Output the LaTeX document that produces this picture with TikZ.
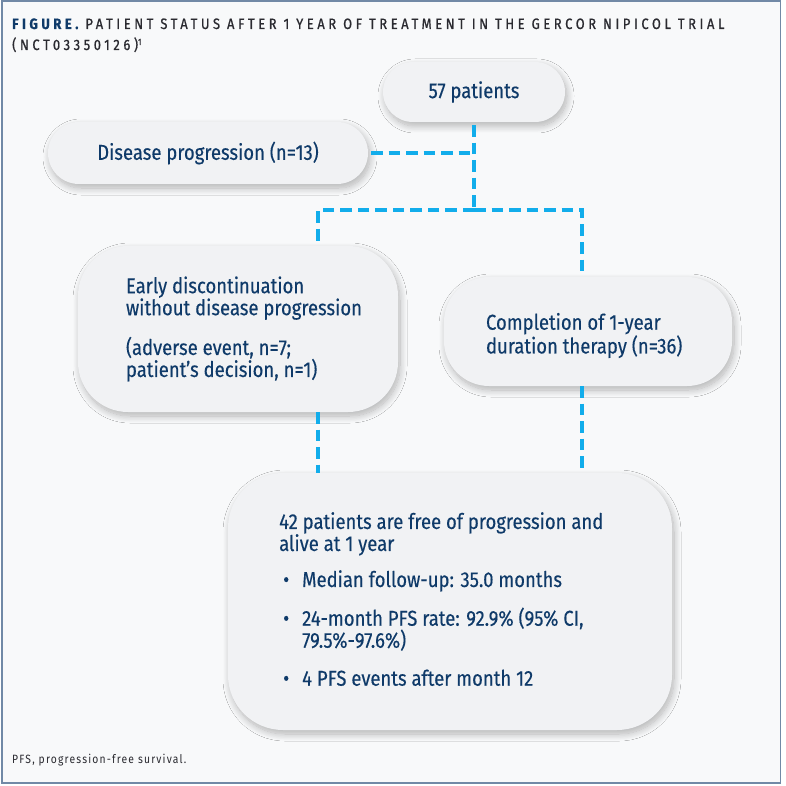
\documentclass[tikz,border=0pt]{standalone}
\usepackage{fontspec}
\setmainfont{Fira Sans}[FakeStretch=0.86,FakeBold=0.3]
\newfontfamily\titlefont{Fira Sans}[FakeStretch=0.86,LetterSpace=24,FakeBold=0.9]
\newfontfamily\notefont{Fira Sans}[FakeStretch=0.86,LetterSpace=10]
\usetikzlibrary{shadows.blur}
\definecolor{navy}{HTML}{0F3A69}
\definecolor{dashblue}{HTML}{12ADEB}
\definecolor{bgc}{HTML}{F8F9FA}
\definecolor{boxc}{HTML}{F1F2F4}
\definecolor{framec}{HTML}{7189A6}
\definecolor{titlec}{HTML}{2A2A30}
\tikzset{
  box/.style={fill=boxc, draw=none, inner sep=0pt,
    blur shadow={shadow xshift=2pt, shadow yshift=-4pt, shadow blur radius=7pt, shadow blur steps=12, shadow opacity=28}},
  txt/.style={text=navy, font=\fontsize{21.5}{22}\selectfont, align=left, inner sep=0pt},
  conn/.style={draw=dashblue, line width=4pt, dash pattern=on 11.5pt off 6pt}
}
\begin{document}
\begin{tikzpicture}[x=1pt,y=-1pt]
\useasboundingbox (0,0) rectangle (786,786);
\fill[white] (0,0) rectangle (786,786);
\fill[bgc] (2,1) rectangle (780.5,783);
\draw[framec, line width=1.4pt] (2,1) rectangle (780.5,783);

% title
\node[anchor=base west, inner sep=0pt, text=titlec, font=\titlefont\fontsize{15}{16}\selectfont] (title1) at (12,29)
  {\textcolor{navy}{\bfseries FIGURE.} PATIENT STATUS AFTER 1 YEAR OF TREATMENT IN THE GERCOR NIPICOL TRIAL};
\node[anchor=base west, inner sep=0pt, text=titlec, font=\titlefont\fontsize{15}{16}\selectfont] (title2) at (12,50)
  {(NCT03350126)\raisebox{5pt}{\fontsize{9}{9}\selectfont 1}};

% boxes
\node[box, minimum width=182pt, minimum height=60pt, rounded corners=30pt] (p57) at (474,92) {};
\node[txt] at (p57) {57 patients};

\node[box, minimum width=320pt, minimum height=62pt, rounded corners=31pt] (dp) at (208,153) {};
\node[txt] at (dp) {Disease progression (n=13)};

\node[box, minimum width=320pt, minimum height=166pt, rounded corners=50pt] (early) at (238,329) {};
\node[txt, anchor=west] at ([xshift=48pt]early.west) {Early discontinuation\\without disease progression\\[16pt](adverse event, n=7;\\patient’s decision, n=1)};

\node[box, minimum width=288pt, minimum height=109pt, rounded corners=45pt] (comp) at (588,331.5) {};
\node[txt, anchor=west] at ([xshift=42pt,yshift=-4pt]comp.west) {Completion of 1-year\\duration therapy (n=36)};

\node[box, minimum width=444pt, minimum height=257pt, rounded corners=55pt] (res) at (450,601.5) {};
\node[txt, anchor=north west] at (279,512) {42 patients are free of progression and\\alive at 1 year\\[14pt]%
\makebox[23pt][l]{\hspace{4pt}\textbullet}Median follow-up: 35.0 months\\[15pt]%
\makebox[23pt][l]{\hspace{4pt}\textbullet}24-month PFS rate: 92.9\% (95\% CI,\\
\hspace*{23pt}79.5\%-97.6\%)\\[16pt]%
\makebox[23pt][l]{\hspace{4pt}\textbullet}4 PFS events after month 12};

% footnote
\node[anchor=base west, inner sep=0pt, text=titlec, font=\notefont\fontsize{12}{13}\selectfont] (fn) at (12,763) {PFS, progression-free survival.};

% connectors
\coordinate (split) at (p57.south |- 0,210);
\coordinate (eL) at (318,210);
\coordinate (cR) at (582,210);
\draw[conn] ([yshift=-3pt]p57.south) -- (split);
\draw[conn] ([xshift=3pt]dp.east) -- (dp.east -| p57.south);
\draw[conn] (split) -- (eL) -- (eL |- early.north);
\draw[conn] (split) -- (cR) -- (cR |- comp.north);
\draw[conn] (eL |- early.south) -- (eL |- res.north);
\draw[conn] (cR |- comp.south) -- (cR |- res.north);
\end{tikzpicture}
\end{document}
